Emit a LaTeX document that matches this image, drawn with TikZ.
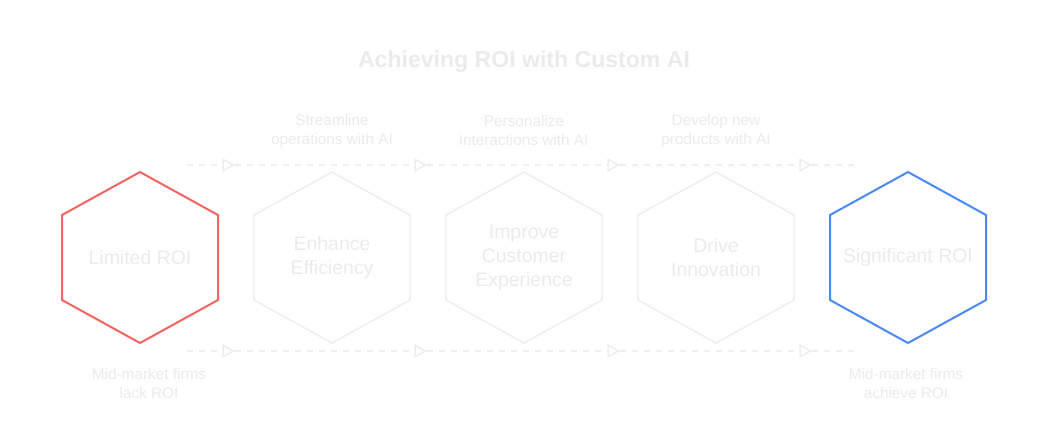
\documentclass[tikz,border=0pt]{standalone}
\usepackage{fontspec}
\setmainfont{Liberation Sans}
\usetikzlibrary{arrows.meta}
\definecolor{faint}{HTML}{EBEBEB}
\definecolor{hexgray}{HTML}{EEEEEE}
\definecolor{lowred}{HTML}{F26461}
\definecolor{highblue}{HTML}{4A8AF4}
\tikzset{
  hexa/.pic={\draw[pic actions] (0,-85.5)--(78,-42.5)--(78,42.5)--(0,85.5)--(-78,42.5)--(-78,-42.5)--cycle;},
  hextext/.style={text=faint, align=center, font=\fontsize{14.6}{18}\selectfont},
  note/.style={text=faint, align=center, font=\fontsize{11.5}{14.25}\selectfont},
  flow/.style={draw=hexgray, line width=1.1pt, dash pattern=on 4.5pt off 4.5pt}
}
\begin{document}
\begin{tikzpicture}[x=0.75pt,y=-0.75pt,>={Triangle[open,length=9.5pt,width=10pt]}]
\useasboundingbox (0,0) rectangle (1048,437);
\node (title) at (524,62)[text=faint, font=\fontsize{17.3}{20}\selectfont\bfseries]{Achieving ROI with Custom AI};
% hexagons
\foreach \x/\n in {140/h1,332/h2,524/h3,716/h4,908/h5} \coordinate (\n) at (\x,257.5);
\pic[draw=lowred, line width=1.5pt] at (h1){hexa};
\pic[draw=hexgray, line width=1.1pt] at (h2){hexa};
\pic[draw=hexgray, line width=1.1pt] at (h3){hexa};
\pic[draw=hexgray, line width=1.1pt] at (h4){hexa};
\pic[draw=highblue, line width=1.5pt] at (h5){hexa};
\node (l1) at (h1)[hextext]{Limited ROI};
\node (l2) at (h2)[hextext]{Enhance\\Efficiency};
\node (l3) at (h3)[hextext]{Improve\\Customer\\Experience};
\node (l4) at (h4)[hextext]{Drive\\Innovation};
\node (l5) at (h5)[hextext]{Significant ROI};
% dashed flows
\foreach \i/\x in {0/187,1/235,2/427,3/620,4/812,5/860}{
  \coordinate (t\i) at (\x,165);
  \coordinate (b\i) at (\x,351);
}
\foreach \i/\j in {0/1,1/2,2/3,3/4}{
  \draw[flow,->] (t\i)--(t\j);
  \draw[flow,->] (b\i)--(b\j);
}
\draw[flow] (t4)--(t5);
\draw[flow] (b4)--(b5);
% notes
\node (n2) at (332,131)[note]{Streamline\\operations with AI};
\node (n3) at (524,131)[note]{Personalize\\interactions with AI};
\node (n4) at (716,131)[note]{Develop new\\products with AI};
\node (n1) at (149,384)[note]{Mid-market firms\\lack ROI};
\node (n5) at (906,384)[note]{Mid-market firms\\achieve ROI};
\end{tikzpicture}
\end{document}
